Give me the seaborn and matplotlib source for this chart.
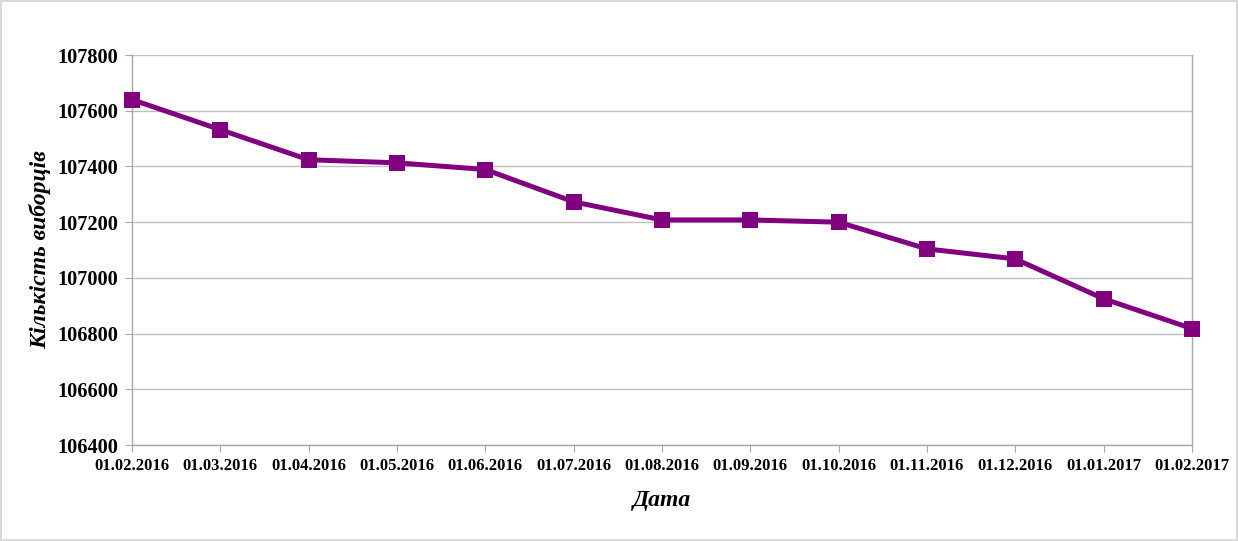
import matplotlib
matplotlib.use("Agg")
import matplotlib.pyplot as plt
import seaborn as sns
import pandas as pd

# дані з графіка
dates = ['01.02.2016', '01.03.2016', '01.04.2016', '01.05.2016', '01.06.2016',
         '01.07.2016', '01.08.2016', '01.09.2016', '01.10.2016', '01.11.2016',
         '01.12.2016', '01.01.2017', '01.02.2017']
voters = [107640, 107532, 107424, 107413, 107389, 107273, 107208,
          107208, 107200, 107104, 107068, 106925, 106818]
y_ticks = [106400, 106600, 106800, 107000, 107200, 107400, 107600, 107800]

sns.set_style("white")
plt.rcParams['font.family'] = ['Liberation Serif', 'DejaVu Serif']
plt.rcParams['text.color'] = 'black'

df = pd.DataFrame({'pos': range(len(dates)), 'voters': voters})

fig = plt.figure(figsize=(12.38, 5.41), dpi=100)
ax = fig.add_axes([0.1066, 0.1774, 0.8562, 0.7209])

sns.lineplot(data=df, x='pos', y='voters', ax=ax, color='#800080',
             linewidth=3.6, marker='s', markersize=11, markeredgewidth=0,
             clip_on=False, zorder=5)

ax.set_xlim(0, len(dates) - 1)
ax.set_ylim(y_ticks[0], y_ticks[-1])
ax.set_yticks(y_ticks)
ax.set_xticks(range(len(dates)))
ax.set_xticklabels(dates, fontsize=12, fontweight='bold', color='black')
ax.set_yticklabels([str(v) for v in y_ticks], fontsize=14.7, fontweight='bold', color='black')

ax.grid(axis='y', color='#BFBFBF', linewidth=1)
ax.grid(axis='x', visible=False)
for side in ['left', 'bottom', 'right']:
    ax.spines[side].set_color('#A6A6A6')
    ax.spines[side].set_linewidth(1)
    ax.spines[side].set_visible(True)
ax.spines['top'].set_visible(False)

ax.tick_params(axis='x', direction='out', length=5, color='#A6A6A6', pad=4, bottom=True)
ax.tick_params(axis='y', direction='out', length=5, color='#A6A6A6', pad=5, left=True)

ax.set_xlabel('Дата', fontsize=17, fontweight='bold', style='italic', labelpad=12, color='black')
ax.set_ylabel('Кількість виборців', fontsize=17, fontweight='bold', style='italic', labelpad=4, color='black')

fig.patch.set_edgecolor('#D9D9D9')
fig.patch.set_linewidth(1.5)

fig.savefig('out.png', dpi=100, edgecolor=fig.get_edgecolor())
